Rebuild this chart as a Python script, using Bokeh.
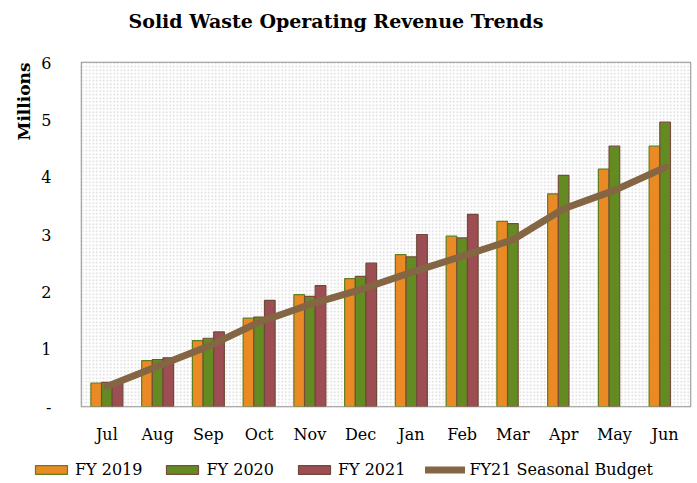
from bokeh.plotting import figure
from bokeh.layouts import column
from bokeh.models import (ColumnDataSource, FactorRange, FixedTicker, Legend, LegendItem,
                          BoxAnnotation, Title, Range1d, Label)
from bokeh.transform import dodge
from bokeh.embed import file_html
from bokeh.resources import INLINE

months = ["Jul", "Aug", "Sep", "Oct", "Nov", "Dec", "Jan", "Feb", "Mar", "Apr", "May", "Jun"]
fy2019 = [0.41, 0.80, 1.15, 1.54, 1.95, 2.23, 2.65, 2.97, 3.23, 3.71, 4.14, 4.54]
fy2020 = [0.42, 0.82, 1.19, 1.56, 1.92, 2.27, 2.61, 2.94, 3.19, 4.03, 4.54, 4.96]
fy2021_months = ["Jul", "Aug", "Sep", "Oct", "Nov", "Dec", "Jan", "Feb"]
fy2021 = [0.40, 0.85, 1.30, 1.85, 2.11, 2.50, 3.00, 3.35]
budget = [0.35, 0.70, 1.05, 1.47, 1.78, 2.04, 2.34, 2.62, 2.91, 3.45, 3.77, 4.17]
y_ticks = [0, 1, 2, 3, 4, 5, 6]
series_labels = ["FY 2019", "FY 2020", "FY 2021", "FY21 Seasonal Budget"]
title_text = "Solid Waste Operating Revenue Trends"

FONT = "DejaVu Serif"
C19, C20, C21, CB = "#E98A25", "#648B22", "#9C4E52", "#846645"
E19, E20, E21 = "#5E7F20", "#7A4B3C", "#6E4A3A"
W = 697

src = ColumnDataSource(dict(m=months, a=fy2019, b=fy2020, bud=budget))
src21 = ColumnDataSource(dict(m=fy2021_months, c=fy2021))


def draw_series(fig):
    w = 0.21
    r1 = fig.vbar(x=dodge("m", -w, range=fig.x_range), top="a", width=w, source=src,
                  fill_color=C19, line_color=E19, line_width=1.2)
    r2 = fig.vbar(x=dodge("m", 0, range=fig.x_range), top="b", width=w, source=src,
                  fill_color=C20, line_color=E20, line_width=1.2)
    r3 = fig.vbar(x=dodge("m", w, range=fig.x_range), top="c", width=w, source=src21,
                  fill_color=C21, line_color=E21, line_width=1.2)
    r4 = fig.line(x="m", y="bud", source=src, line_color=CB, line_width=7,
                  line_cap="round", line_join="round")
    return [r1, r2, r3, r4]


# header strip with the title
hd = figure(x_range=Range1d(0, W), y_range=Range1d(0, 40), width=W, height=40,
            output_backend="svg", toolbar_location=None, min_border=0,
            x_axis_location=None, y_axis_location=None, title=None, frame_align=False)
hd.grid.visible = False
hd.outline_line_color = None
hd.add_layout(Label(x=128, y=20, text=title_text, text_font=FONT, text_font_size="19px",
                    text_font_style="bold", text_color="black", text_baseline="middle",
                    text_align="left"))

# main chart
p = figure(x_range=FactorRange(*months), y_range=(0, 6), width=W, height=415,
           output_backend="svg", toolbar_location=None, title=None, frame_align=False,
           min_border_left=81, min_border_top=22, min_border_bottom=49, min_border_right=7)

bg = BoxAnnotation(fill_color="white", fill_alpha=1.0, hatch_pattern="dot",
                   hatch_color="#d6d6d6", hatch_scale=3.5, hatch_weight=1,
                   line_color=None, level="underlay")
p.add_layout(bg)
draw_series(p)

p.xgrid.visible = False
p.ygrid.grid_line_color = "#a8a8a8"
p.ygrid.grid_line_width = 1.3
p.ygrid.level = "underlay"
p.outline_line_color = "#8c8c8c"
p.outline_line_width = 1.5

p.yaxis.ticker = FixedTicker(ticks=y_ticks)
p.yaxis.major_label_overrides = {0: "-"}
p.yaxis.major_tick_line_color = None
p.yaxis.minor_tick_line_color = None
p.yaxis.axis_line_color = None
p.yaxis.major_label_standoff = 24
p.yaxis.major_label_text_font = FONT
p.yaxis.major_label_text_font_size = "16px"
p.yaxis.major_label_text_color = "black"

p.xaxis.major_tick_line_color = None
p.xaxis.axis_line_color = None
p.xaxis.major_label_standoff = 12
p.xaxis.major_label_text_font = FONT
p.xaxis.major_label_text_font_size = "16px"
p.xaxis.major_label_text_color = "black"

ylab = Title(text="Millions", align="right", text_font=FONT, text_font_size="17px",
             text_font_style="bold", text_color="black")
p.add_layout(ylab, "left")

# legend strip below the chart (series drawn outside its visible range, only swatches show)
lg = figure(x_range=FactorRange(*months), y_range=Range1d(100, 101), width=W, height=28,
            output_backend="svg", toolbar_location=None, min_border=0, title=None,
            x_axis_location=None, y_axis_location=None, frame_align=False)
lg.grid.visible = False
lg.outline_line_color = None
lrs = draw_series(lg)

legend = Legend(items=[LegendItem(label=t, renderers=[r]) for t, r in
                       zip(series_labels, lrs)],
                orientation="horizontal", location=(31, 4),
                glyph_width=40, glyph_height=11, label_standoff=4, spacing=20,
                padding=0, margin=0, border_line_color=None, background_fill_alpha=0,
                label_text_font=FONT, label_text_font_size="16px", label_height=16,
                label_text_color="black")
lg.add_layout(legend, "center")

open("out.html", "w").write(file_html(column(hd, p, lg, spacing=0), INLINE))
